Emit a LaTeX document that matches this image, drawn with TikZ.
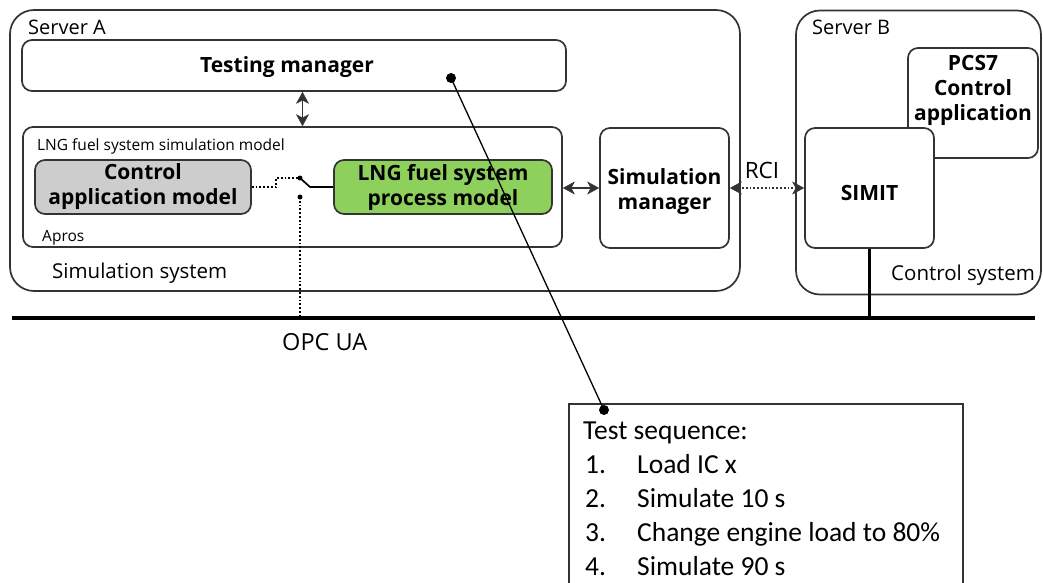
\documentclass[tikz,border=0pt]{standalone}
\usepackage{fontspec}
\setmainfont{Open Sans}
\newfontfamily\calibfont{Carlito}
\usetikzlibrary{arrows.meta}
\definecolor{bordc}{HTML}{333333}
\definecolor{grayfill}{HTML}{CDCDCD}
\definecolor{greenfill}{HTML}{8DD15C}
\newcommand\fsBold{\fontsize{21}{25}\selectfont\bfseries}
\newcommand\fsLab{\fontsize{20}{24}\selectfont}
\newcommand\fsSys{\fontsize{20.5}{24}\selectfont}
\newcommand\fsSmall{\fontsize{15.5}{18}\selectfont}
\newcommand\fsSeq{\calibfont\fontsize{27.5}{32}\selectfont}
\begin{document}
\begin{tikzpicture}[x=1pt,y=-1pt,
  box/.style={draw=bordc, line width=1.7pt, rounded corners=10pt, inner sep=0pt, align=center, font=\fsBold},
  bigbox/.style={box, rounded corners=24pt},
  lab/.style={anchor=base west, inner sep=0pt},
  dotmark/.style={circle, fill=black, inner sep=0pt, minimum size=10pt},
  smalldot/.style={circle, fill=black, inner sep=0pt, minimum size=5pt},
  tip/.tip={Stealth[length=12pt,width=13pt,inset=3.5pt,line width=0.5pt,sep=0pt]},
  dbl/.style={tip-tip, line width=1.8pt, draw=bordc},
  seq/.style={anchor=base west, inner sep=0pt, font=\fsSeq}
]
\useasboundingbox (0,0) rectangle (1043,582);
\clip (0,0) rectangle (1043,582);

% Server A
\node[bigbox, minimum width=730pt, minimum height=281pt] (srvA) at (375,150.5) {};
\node[lab, font=\fsLab] (srvAlab) at (28,34) {Server A};
\node[box, minimum width=544pt, minimum height=51pt] (tm) at (294,65.5) {};
\node[font=\fsBold, inner sep=0pt] (tmtext) at (287,67) {Testing manager};
\node[box, minimum width=539pt, minimum height=120pt] (lngm) at (292.5,187) {};
\node[lab, font=\fsSmall] (lngmlab) at (37,150) {LNG fuel system simulation model};
\node[lab, font=\fsSmall] (aproslab) at (42,241) {Apros};
\node[lab, font=\fsSys] (simsyslab) at (52,278) {Simulation system};
\node[box, fill=grayfill, minimum width=216pt, minimum height=54pt] (cam) at (143,187) {Control\\application model};
\node[box, fill=greenfill, minimum width=218pt, minimum height=54pt] (lpm) at (443,187) {LNG fuel system\\process model};
\node[box, minimum width=129pt, minimum height=120pt] (sm) at (664.5,188) {};
\node[font=\fsBold, align=center, inner sep=0pt] (smtext) at (664.5,192) {Simulation\\manager};

% Server B
\node[bigbox, minimum width=245pt, minimum height=284pt] (srvB) at (918.5,152.5) {};
\node[lab, font=\fsLab] (srvBlab) at (812,34) {Server B};
\node[box, minimum width=130pt, minimum height=110pt] (pcs) at (973,103) {};
\node[font=\fsBold, align=center, inner sep=0pt] (pcstext) at (973,90) {PCS7\\Control\\application};
\node[box, fill=white, minimum width=129pt, minimum height=120pt] (simit) at (869.5,188) {};
\node[font=\fsBold, inner sep=0pt] (simittext) at (869.5,193) {SIMIT};
\node[lab, font=\fsSys] (ctrlsys) at (891,280) {Control system};

% bus
\coordinate (busL) at (12,318);
\coordinate (busR) at (1035,318);
\draw[line width=4.5pt] (busL) -- (busR);
\draw[line width=3pt] (simit.south) -- (simit.south |- busL);
\node[anchor=base west, inner sep=0pt, font=\fontsize{23.5}{28}\selectfont] (opc) at (282,350) {OPC UA};

% arrows
\draw[dbl] ([xshift=10pt]lngm.north) -- ([xshift=10pt]lngm.north |- tm.south);
\draw[dbl] (lngm.east |- sm.west) -- (sm.west);
\draw[dbl, dotted, line width=2.6pt] (sm.east) -- (simit.west);
\node[anchor=base, inner sep=0pt, font=\fontsize{22.5}{26}\selectfont] (rci) at (762,178) {RCI};

% switch
\node[smalldot] (sw1) at (300,178) {};
\node[smalldot] (sw2) at (300,197) {};
\coordinate (swk) at (310,187);
\draw[dotted, line width=1.8pt] (cam.east) -- (276,187) -- (276,178) -- (sw1.center);
\draw[line width=1.7pt] (sw1.center) -- (swk) -- (lpm.west);
\draw[dotted, line width=1.8pt] (sw2.center) -- (sw2.center |- busL);

% test sequence
\node[draw=bordc, line width=1.2pt, minimum width=394pt, minimum height=186pt, inner sep=0pt] (seqbox) at (766,497) {};
\node[dotmark] (d1) at (451,78) {};
\node[dotmark] (d2) at (604,410) {};
\draw[line width=1.3pt] (d1.center) -- (d2.center);
\node[seq] (s0) at (583,439) {Test sequence:};
\node[seq] (s1n) at (585,473) {1.};
\node[seq] (s1) at (637,473) {Load IC x};
\node[seq] (s2n) at (585,507) {2.};
\node[seq] (s2) at (637,507) {Simulate 10 s};
\node[seq] (s3n) at (585,541) {3.};
\node[seq] (s3) at (637,541) {Change engine load to 80\%};
\node[seq] (s4n) at (585,575) {4.};
\node[seq] (s4) at (637,575) {Simulate 90 s};
\end{tikzpicture}
\end{document}
